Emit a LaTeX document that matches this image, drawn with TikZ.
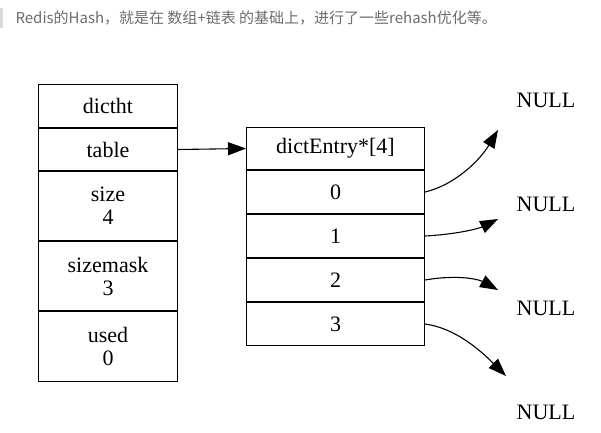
\documentclass[tikz,border=0pt]{standalone}
\usepackage{fontspec}
\setmainfont{Liberation Serif}
\newfontfamily\cjk{Noto Sans CJK SC}
\usetikzlibrary{arrows.meta}
\begin{document}
\begin{tikzpicture}[x=1pt,y=-1pt,
  cell/.style={draw,line width=1pt,minimum width=139pt,inner sep=0pt,align=center,font=\fontsize{22}{23}\selectfont},
  rcell/.style={draw,line width=1pt,minimum width=178pt,minimum height=43pt,inner sep=0pt,font=\fontsize{22}{23}\selectfont},
  lbl/.style={font=\fontsize{22}{23}\selectfont},
  arr/.style={line width=1.1pt,-{Triangle[length=18pt,width=13pt]}}]
\useasboundingbox (0,0) rectangle (601,432);
\fill[gray!30] (0,8) rectangle (3,28);
\node[anchor=west,text=gray!85!black,font=\cjk\fontsize{15}{16}\selectfont] (hd) at (12,18) {Redis的Hash，就是在 数组+链表 的基础上，进行了一些rehash优化等。};
\node[cell,minimum height=43pt,anchor=north west] (d) at (38,84) {dictht};
\node[cell,minimum height=42pt,anchor=north] (t) at (d.south) {table};
\node[cell,minimum height=69pt,anchor=north] (s) at (t.south) {size\\4};
\node[cell,minimum height=69pt,anchor=north] (m) at (s.south) {sizemask\\3};
\node[cell,minimum height=70pt,anchor=north] (u) at (m.south) {used\\0};
\node[rcell,minimum height=42pt,anchor=north west] (h) at (246,127) {dictEntry*[4]};
\node[rcell,anchor=north] (e0) at (h.south) {0};
\node[rcell,anchor=north] (e1) at (e0.south) {1};
\node[rcell,anchor=north] (e2) at (e1.south) {2};
\node[rcell,anchor=north] (e3) at (e2.south) {3};
\node[lbl] (n0) at (546,100) {NULL};
\node[lbl] (n1) at (546,204) {NULL};
\node[lbl] (n2) at (546,308) {NULL};
\node[lbl] (n3) at (546,412) {NULL};
\draw[arr] (t.east) -- (h.west);
\draw[arr] (e0.east) .. controls (455,185) and (480,160) .. (498,130);
\draw[arr] (e1.east) .. controls (460,234) and (480,228) .. (498,219);
\draw[arr] (e2.east) .. controls (460,274) and (480,280) .. (498,290);
\draw[arr] (e3.east) .. controls (455,328) and (480,350) .. (506,376);
\end{tikzpicture}
\end{document}
